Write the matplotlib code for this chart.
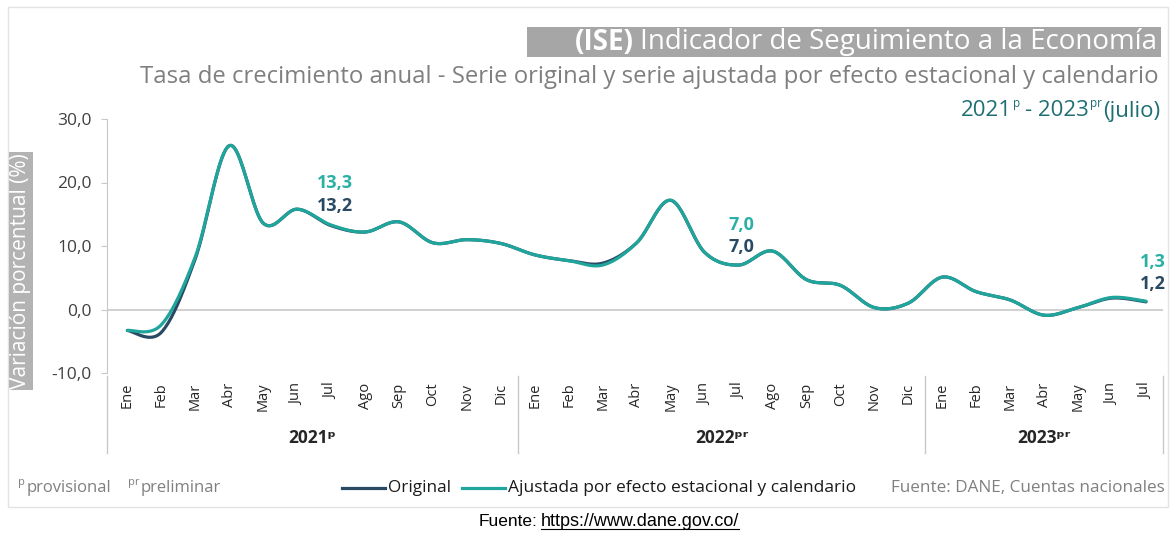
import numpy as np
import matplotlib
matplotlib.use("Agg")
import matplotlib.pyplot as plt
from matplotlib.lines import Line2D
from matplotlib.patches import Rectangle

plt.rcParams['font.family'] = ['Open Sans', 'DejaVu Sans']

months = ["Ene", "Feb", "Mar", "Abr", "May", "Jun", "Jul", "Ago", "Sep", "Oct", "Nov", "Dic",
          "Ene", "Feb", "Mar", "Abr", "May", "Jun", "Jul", "Ago", "Sep", "Oct", "Nov", "Dic",
          "Ene", "Feb", "Mar", "Abr", "May", "Jun", "Jul"]
years = ["2021ᵖ", "2022ᵖʳ", "2023ᵖʳ"]
year_len = [12, 12, 7]

original = [-3.3, -3.6, 8.0, 25.8, 13.6, 15.8, 13.2, 12.2, 13.8, 10.5, 11.0, 10.4,
            8.6, 7.7, 7.3, 10.5, 17.2, 9.0, 7.0, 9.2, 4.7, 3.8, 0.3, 1.0,
            5.1, 2.8, 1.5, -0.9, 0.3, 1.8, 1.2]
ajustada = [-3.3, -2.4, 8.3, 25.8, 13.6, 15.8, 13.3, 12.2, 13.8, 10.5, 11.0, 10.4,
            8.6, 7.7, 7.0, 10.5, 17.2, 9.0, 7.0, 9.2, 4.7, 3.8, 0.3, 1.0,
            5.1, 2.8, 1.5, -0.9, 0.3, 1.9, 1.3]
label_idx = [6, 18, 30]

c_orig = "#2a4a63"
c_aj = "#1fa59b"
c_aj_txt = "#2bb0a6"
c_grey = "#808080"

W, H = 1170, 533


def smooth(x, y, n=24):
    # curva suavizada tipo Excel (bezier cubico)
    P = np.column_stack([x, y]).astype(float)
    out = []
    for i in range(len(P) - 1):
        p0 = P[max(i - 1, 0)]
        p1 = P[i]
        p2 = P[i + 1]
        p3 = P[min(i + 2, len(P) - 1)]
        c1 = p1 + (p2 - p0) / 6
        c2 = p2 - (p3 - p1) / 6
        t = np.linspace(0, 1, n, endpoint=False)[:, None]
        seg = ((1 - t) ** 3) * p1 + 3 * ((1 - t) ** 2) * t * c1 + 3 * (1 - t) * t ** 2 * c2 + t ** 3 * p2
        out.append(seg)
    out.append(P[-1:])
    out = np.vstack(out)
    return out[:, 0], out[:, 1]


def fmt(v):
    return f"{v:.1f}".replace(".", ",")


def runs(fig, x_px, y_px, parts, align="left", gap=0):
    # pedazos de texto seguidos (para superindices y negritas)
    r = fig.canvas.get_renderer()
    texts = []
    for s, kw in parts:
        kw = dict(kw)
        dy = kw.pop("dy", 0)
        g = kw.pop("gap", gap)
        t = fig.text(0, 0, s, ha="left", va="center", **kw)
        texts.append((t, dy, g))
    widths = [t.get_window_extent(renderer=r).width for t, _, _ in texts]
    total = sum(widths) + sum(g for _, _, g in texts[:-1])
    x = x_px - total if align == "right" else x_px
    for (t, dy, g), w in zip(texts, widths):
        t.set_position((x / W, 1 - (y_px + dy) / H))
        x += w + g
    return texts


fig = plt.figure(figsize=(W / 100, H / 100), dpi=100)
fig.patch.set_facecolor("white")

# marco del grafico
fig.patches.append(Rectangle((8 / W, 1 - 507 / H), 1160 / W, 500 / H, transform=fig.transFigure,
                             fill=False, edgecolor="#e3e3e3", linewidth=1))

ax = fig.add_axes([107 / W, 1 - 373 / H, (1163 - 107) / W, (373 - 119) / H])
x = np.arange(len(months))

xs, ys = smooth(x, original)
ax.plot(xs, ys, color=c_orig, lw=2.3, solid_capstyle="round", zorder=3)
xs, ys = smooth(x, ajustada)
ax.plot(xs, ys, color=c_aj, lw=2.3, solid_capstyle="round", zorder=4)

ax.axhline(0, color="#c8c8c8", lw=1.2, zorder=1)

ax.set_xlim(-0.6, 30.5)
ax.set_ylim(-10, 30)
ax.set_yticks([-10, 0, 10, 20, 30])
ax.set_yticklabels([fmt(v) for v in [-10, 0, 10, 20, 30]], fontsize=12.5, color="#404040")
ax.tick_params(axis="y", length=4, color="#c8c8c8", pad=7)
ax.set_xticks(x)
ax.set_xticklabels(months, rotation=90, fontsize=10.5, color="#262626")
ax.tick_params(axis="x", length=0, pad=7)
for s in ["top", "right", "bottom"]:
    ax.spines[s].set_visible(False)
ax.spines["left"].set_color("#c8c8c8")

# separadores de anios
trans = ax.get_xaxis_transform()
bounds = [-0.6]
start = 0
for n in year_len:
    start += n
    bounds.append(start - 0.5)
bounds[-1] = 30.5
for b in bounds:
    ax.plot([b, b], [-0.01, -0.315], color="#c8c8c8", lw=1, transform=trans, clip_on=False)
for i, yl in enumerate(years):
    ax.text((bounds[i] + bounds[i + 1]) / 2, -0.255, yl, transform=trans, ha="center", va="center",
            fontsize=12.5, fontweight="bold", color="#262626")

# etiquetas de datos
offs = {6: (30, 14), 18: (29, 13), 30: (28, 13)}
dxs = {6: 3, 18: 2, 30: 5}
for i in label_idx:
    dy1, dy2 = offs[i]
    ax.annotate(fmt(ajustada[i]), (x[i], ajustada[i]), xytext=(dxs[i], dy1), textcoords="offset points",
                ha="center", va="center", fontsize=13, fontweight="bold", color=c_aj_txt)
    ax.annotate(fmt(original[i]), (x[i], original[i]), xytext=(dxs[i], dy2), textcoords="offset points",
                ha="center", va="center", fontsize=13, fontweight="bold", color=c_orig)

# titulos
fig.patches.append(Rectangle((527 / W, 1 - 57 / H), (1161 - 527) / W, 30 / H, transform=fig.transFigure,
                             facecolor="#a6a6a6", edgecolor="none"))
runs(fig, 1157, 42, [("(ISE)", dict(fontsize=20, color="white", fontweight="bold")),
                     ("Indicador de Seguimiento a la Economía", dict(fontsize=20, color="white"))],
     align="right", gap=6)
fig.text(1158 / W, 1 - 77 / H, "Tasa de crecimiento anual - Serie original y serie ajustada por efecto estacional y calendario",
         ha="right", va="center", fontsize=17.2, color="#7f7f7f")
runs(fig, 1160, 111, [("2021", dict(fontsize=16, color="#1e6f73")),
                      ("p", dict(fontsize=8.5, color="#1e6f73", dy=-8, gap=5)),
                      ("- 2023", dict(fontsize=16, color="#1e6f73")),
                      ("pr", dict(fontsize=8.5, color="#1e6f73", dy=-8)),
                      ("(julio)", dict(fontsize=16, color="#1e6f73"))],
     align="right", gap=1)

fig.text(21 / W, 1 - 271 / H, "Variación porcentual (%)", rotation=90, ha="center", va="center",
         fontsize=15, color="white",
         bbox=dict(boxstyle="square,pad=0.05", facecolor="#b3b3b3", edgecolor="none"))

# pie
runs(fig, 18, 488, [("p", dict(fontsize=8, color=c_grey, dy=-5)),
                    ("provisional", dict(fontsize=12, color=c_grey, gap=16)),
                    ("pr", dict(fontsize=8, color=c_grey, dy=-5)),
                    ("preliminar", dict(fontsize=12, color=c_grey))], gap=2)

for x0, col in [(342, c_orig), (462, c_aj)]:
    fig.add_artist(Line2D([x0 / W, (x0 + 43) / W], [1 - 488 / H, 1 - 488 / H], color=col, lw=2.3))
fig.text(388 / W, 1 - 488 / H, "Original", ha="left", va="center", fontsize=12.3, color="#1a1a1a")
fig.text(508 / W, 1 - 488 / H, "Ajustada por efecto estacional y calendario", ha="left", va="center",
         fontsize=12.5, color="#1a1a1a")
fig.text(1165 / W, 1 - 488 / H, "Fuente: DANE, Cuentas nacionales", ha="right", va="center",
         fontsize=12.3, color=c_grey)

cap_font = ["Liberation Sans Narrow", "Liberation Sans", "DejaVu Sans"]
fig.text(537 / W, 1 - 521 / H, "Fuente:", ha="right", va="center", fontsize=12.5,
         family=cap_font, color="black")
t2 = fig.text(541 / W, 1 - 521 / H, "https://www.dane.gov.co/", ha="left", va="center", fontsize=13,
              family=cap_font, color="black")
r = fig.canvas.get_renderer()
bb = t2.get_window_extent(renderer=r)
fig.add_artist(Line2D([bb.x0 / W, bb.x1 / W], [(bb.y0 + 1) / H, (bb.y0 + 1) / H], color="black", lw=0.8))

fig.savefig("out.png", dpi=100)
